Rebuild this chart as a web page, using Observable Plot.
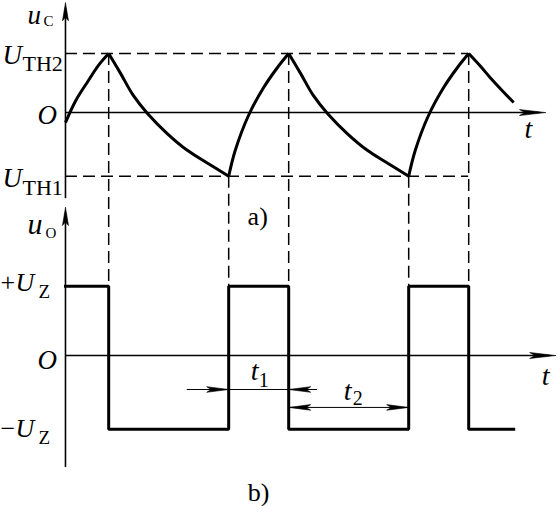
<!DOCTYPE html>
<html>
<head>
<meta charset="utf-8">
<script src="https://cdn.jsdelivr.net/npm/d3@7"></script>
<script src="https://cdn.jsdelivr.net/npm/@observablehq/plot@0.6"></script>
<style>
  html, body { margin: 0; padding: 0; background: #fff; }
  #chart svg { display: block; }
</style>
</head>
<body>
<div id="chart"></div>
<script>
// ---------------- data (time unit: t1 = 1) ----------------
const tPeaks = [0.72, 3.72, 6.72];          // u_c reaches U_TH2
const tTroughs = [2.72, 5.72];              // u_c reaches U_TH1
const thresholdValues = [1.0, -1.08];       // U_TH2, U_TH1
const thresholdSubs = ["TH2", "TH1"];

// capacitor voltage u_c
const ucTime  = [0.00, 0.17, 0.38, 0.55, 0.72, 0.92, 1.13, 1.37, 1.70, 2.03, 2.37, 2.72,
                 2.83, 3.05, 3.30, 3.53, 3.72, 3.92, 4.13, 4.37, 4.70, 5.03, 5.37, 5.72,
                 5.83, 6.05, 6.30, 6.53, 6.72, 6.92, 7.08, 7.28, 7.47];
const ucValue = [-0.17, 0.20, 0.54, 0.80, 1.00, 0.66, 0.29, -0.02, -0.36, -0.64, -0.86, -1.08,
                 -0.64, -0.05, 0.42, 0.76, 1.00, 0.66, 0.29, -0.02, -0.36, -0.64, -0.86, -1.08,
                 -0.64, -0.05, 0.42, 0.76, 1.00, 0.78, 0.59, 0.37, 0.17];

// output voltage u_o (square wave)
const uoTime  = [0, 0.72, 2.72, 3.72, 5.72, 6.72, 7.47];
const uoValue = [1.175, -1.25, 1.175, -1.25, 1.175, -1.25, -1.25];
const outputSigns = ["+", "\u2212"];
const outputLevels = [1.175, -1.25];

// durations t1, t2
const durStart = [2.72, 3.72];
const durEnd   = [3.72, 5.72];
const durSubs  = ["1", "2"];
const panelCaptions = ["a)", "b)"];

// ---------------- layout ----------------
const W = 560, H = 506;
const tDomain = [-1.083, 8.25];
const uDomain = [-6.68, 1.9];
const panelB = -4.12;               // vertical offset of panel b)
const kx = W / (tDomain[1] - tDomain[0]);
const ky = H / (uDomain[1] - uDomain[0]);
const SERIF = "'Liberation Serif', 'Times New Roman', 'DejaVu Serif', serif";
const dash = "12,6";

// split u_c into monotone segments (turning points shared)
const ucPts = [];
{
  let seg = 0, dir = 0;
  for (let i = 0; i < ucTime.length; i++) {
    if (i > 0) {
      const d = Math.sign(ucValue[i] - ucValue[i - 1]);
      if (dir !== 0 && d !== dir) {
        seg++;
        ucPts.push({t: ucTime[i - 1], u: ucValue[i - 1], seg});
      }
      dir = d;
    }
    ucPts.push({t: ucTime[i], u: ucValue[i], seg});
  }
}
const uoPts = uoTime.map((t, i) => ({t, u: panelB + uoValue[i]}));

// filled arrowhead polygon (size in px) at a tip in data coordinates
let headId = 0;
function head(t, u, dir, L = 22, w = 3) {
  const [ex, ey] = dir; // screen direction
  const nx = -ey, ny = ex;
  const id = headId++;
  return [[0, 0], [-L * ex + w * nx, -L * ey + w * ny], [-0.8 * L * ex, -0.8 * L * ey],
          [-L * ex - w * nx, -L * ey - w * ny], [0, 0]]
    .map(([px, py]) => ({t: t + px / kx, u: u - py / ky, id}));
}
const RIGHT = [1, 0], LEFT = [-1, 0], UP = [0, -1];

const topAxisTip = 1.86, topAxisEnd = -1.46, topTAxisTip = 8.0;
const botAxisTip = panelB + 2.51, botAxisEnd = panelB - 1.9, botTAxisTip = 8.17;
const durY = [panelB - 0.576, panelB - 0.88];

const heads = [
  ...head(0, topAxisTip, UP, 18, 3),
  ...head(topTAxisTip, 0, RIGHT, 26, 3),
  ...head(0, botAxisTip, UP, 18, 3),
  ...head(botTAxisTip, panelB, RIGHT, 26, 3),
  ...head(durStart[0], durY[0], RIGHT, 22, 2.8),
  ...head(durEnd[0], durY[0], LEFT, 22, 2.8),
  ...head(durStart[1], durY[1], LEFT, 22, 2.8),
  ...head(durEnd[1], durY[1], RIGHT, 22, 2.8)
];

// text part helper
function label(t, u, str, {dx = 0, dy = 0, size = 26, italic = false, anchor = "start"} = {}) {
  return Plot.text([str], {
    x: () => t, y: () => u, text: d => d,
    dx, dy, textAnchor: anchor, lineAnchor: "bottom",
    fontSize: size, fontStyle: italic ? "italic" : "normal",
    fontFamily: SERIF, fill: "black"
  });
}

const midT = (tTroughs[0] + tPeaks[1]) / 2;

const marks = [
  // dashed guides
  Plot.ruleY(thresholdValues, {x1: 0, x2: tPeaks[tPeaks.length - 1], stroke: "black", strokeWidth: 1.5, strokeDasharray: dash}),
  Plot.ruleX(tPeaks, {y1: thresholdValues[0], y2: panelB + outputLevels[0], stroke: "black", strokeWidth: 1.5, strokeDasharray: dash}),
  Plot.ruleX(tTroughs, {y1: thresholdValues[1], y2: panelB + outputLevels[0], stroke: "black", strokeWidth: 1.5, strokeDasharray: dash}),
  // axes
  Plot.ruleX([0], {y1: topAxisEnd, y2: topAxisTip - 0.1, stroke: "black", strokeWidth: 1.6}),
  Plot.ruleY([0], {x1: 0, x2: topTAxisTip - 0.1, stroke: "black", strokeWidth: 1.4}),
  Plot.ruleX([0], {y1: botAxisEnd, y2: botAxisTip - 0.1, stroke: "black", strokeWidth: 1.6}),
  Plot.ruleY([panelB], {x1: 0, x2: botTAxisTip - 0.1, stroke: "black", strokeWidth: 1.4}),
  // u_c curve
  Plot.line(ucPts, {x: "t", y: "u", z: "seg", curve: "catmull-rom", stroke: "black", strokeWidth: 3, strokeLinejoin: "miter", strokeLinecap: "butt"}),
  // u_o square wave
  Plot.line(uoPts, {x: "t", y: "u", curve: "step-after", stroke: "black", strokeWidth: 3, strokeLinejoin: "miter", strokeLinecap: "square"}),
  // duration dimension lines
  Plot.ruleY([durY[0]], {x1: 2.03, x2: 4.2, stroke: "black", strokeWidth: 1}),
  Plot.ruleY([durY[1]], {x1: durStart[1], x2: durEnd[1], stroke: "black", strokeWidth: 1}),
  // arrowheads
  Plot.line(heads, {x: "t", y: "u", z: "id", fill: "black", stroke: "black", strokeWidth: 0.6, curve: "linear"}),

  // ---- labels panel a
  label(0, topAxisTip, "u", {dx: -38, dy: 21, size: 27, italic: true}),
  label(0, topAxisTip, "C", {dx: -22, dy: 23, size: 15}),
  label(0, thresholdValues[0], "U", {dx: -63, dy: 10, size: 27, italic: true}),
  label(0, thresholdValues[0], thresholdSubs[0], {dx: -43, dy: 17, size: 22}),
  label(0, 0, "O", {dx: -28, dy: 11, size: 27, italic: true}),
  label(0, thresholdValues[1], "U", {dx: -63, dy: 11, size: 27, italic: true}),
  label(0, thresholdValues[1], thresholdSubs[1], {dx: -43, dy: 19, size: 22}),
  label(topTAxisTip, 0, "t", {dx: -21, dy: 25, size: 28, italic: true}),
  label(midT, thresholdValues[1], panelCaptions[0], {dx: -1, dy: 49, size: 26, anchor: "middle"}),

  // ---- labels panel b
  label(0, botAxisTip, "u", {dx: -38, dy: 26, size: 30, italic: true}),
  label(0, botAxisTip, "O", {dx: -20, dy: 30, size: 15}),
  label(0, panelB + outputLevels[0], outputSigns[0], {dx: -65, dy: 5, size: 26}),
  label(0, panelB + outputLevels[0], "U", {dx: -50, dy: 5, size: 26, italic: true}),
  label(0, panelB + outputLevels[0], "Z", {dx: -27, dy: 12, size: 19}),
  label(0, panelB, "O", {dx: -28, dy: 13, size: 27, italic: true}),
  label(0, panelB + outputLevels[1], outputSigns[1], {dx: -65, dy: 8, size: 26}),
  label(0, panelB + outputLevels[1], "U", {dx: -50, dy: 8, size: 26, italic: true}),
  label(0, panelB + outputLevels[1], "Z", {dx: -27, dy: 15, size: 19}),
  label(botTAxisTip, panelB, "t", {dx: -14, dy: 29, size: 28, italic: true}),
  label((durStart[0] + durEnd[0]) / 2, durY[0], "t", {dx: -8, dy: -9, size: 28, italic: true}),
  label((durStart[0] + durEnd[0]) / 2, durY[0], durSubs[0], {dx: 0, dy: -2, size: 20}),
  label((durStart[1] + durEnd[1]) / 2, durY[1], "t", {dx: -5, dy: -7, size: 28, italic: true}),
  label((durStart[1] + durEnd[1]) / 2, durY[1], durSubs[1], {dx: 4, dy: -2, size: 20}),
  label(midT, panelB + outputLevels[1], panelCaptions[1], {dx: 0, dy: 72, size: 26, anchor: "middle"})
];

const chart = Plot.plot({
  width: W, height: H,
  marginTop: 0, marginRight: 0, marginBottom: 0, marginLeft: 0,
  x: {domain: tDomain, axis: null},
  y: {domain: uDomain, axis: null},
  style: {background: "white", color: "black", overflow: "visible"},
  marks
});
document.getElementById("chart").appendChild(chart);
</script>
</body>
</html>
